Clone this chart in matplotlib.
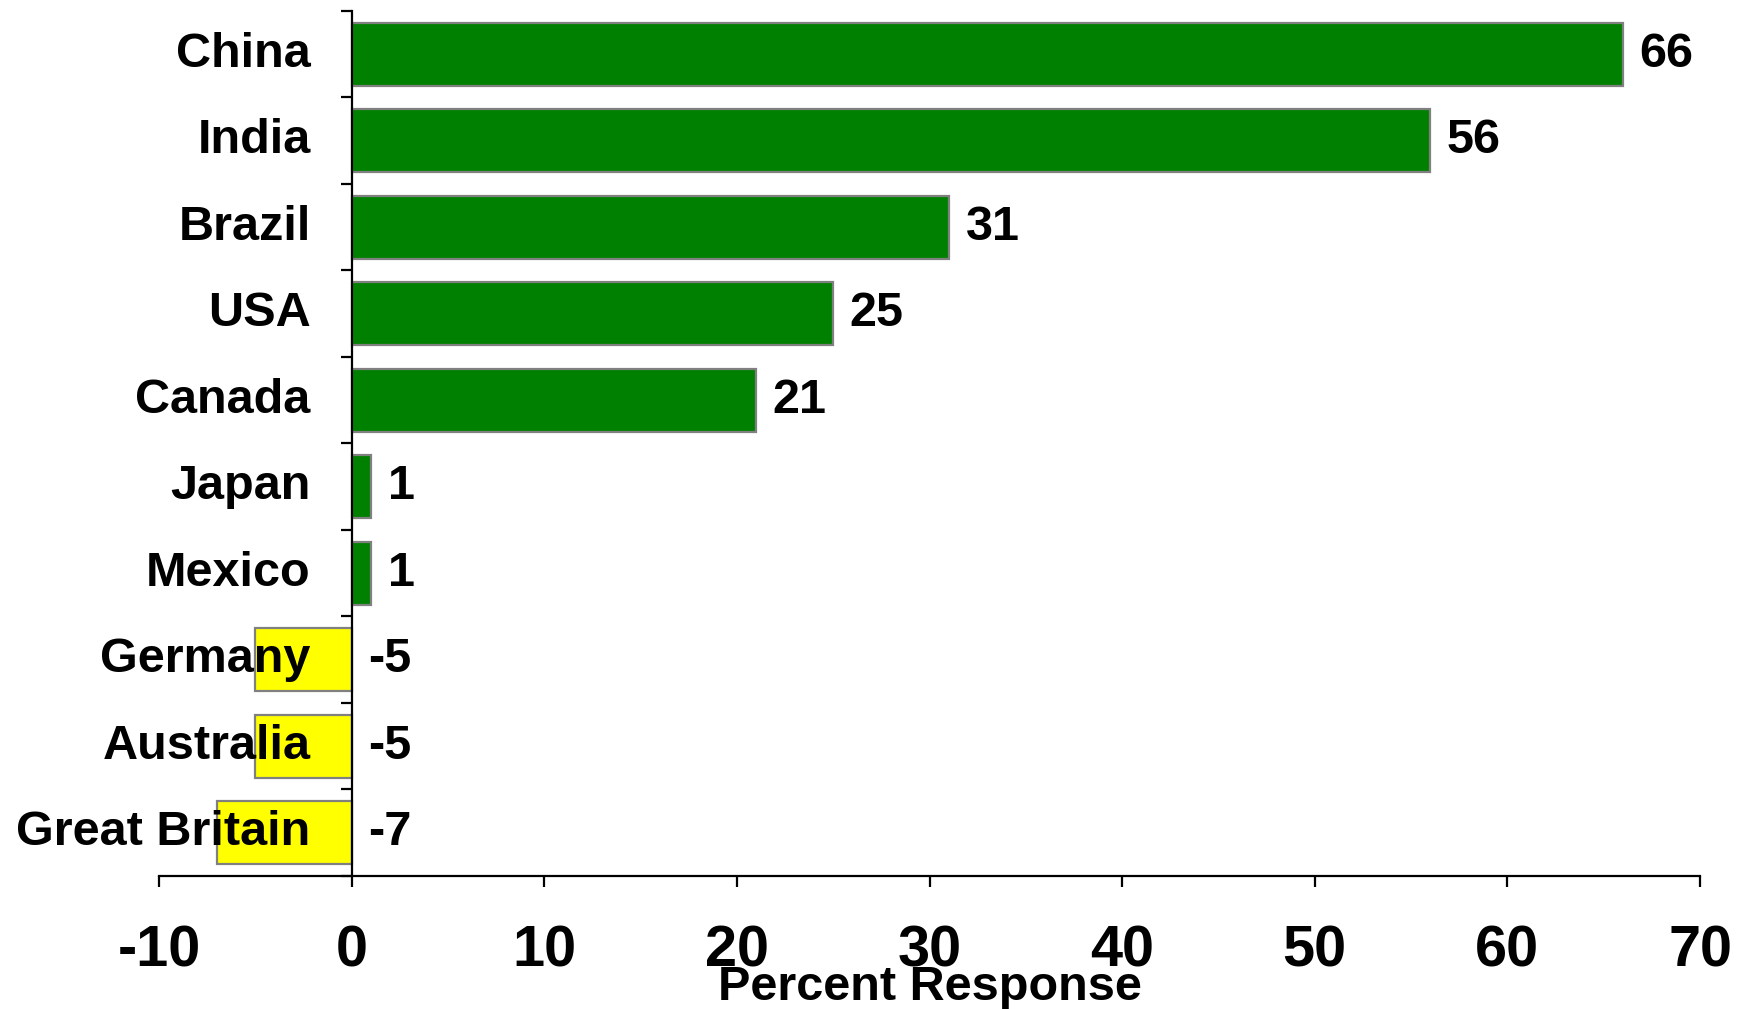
import matplotlib
matplotlib.use("Agg")
import matplotlib.pyplot as plt

countries = ["China", "India", "Brazil", "USA", "Canada", "Japan", "Mexico",
             "Germany", "Australia", "Great Britain"]
values = [66, 56, 31, 25, 21, 1, 1, -5, -5, -7]
x_ticks = [-10, 0, 10, 20, 30, 40, 50, 60, 70]

plt.rcParams["font.family"] = ["Liberation Sans", "DejaVu Sans"]
plt.rcParams["font.weight"] = "bold"

fig = plt.figure(figsize=(17.42, 10.09), dpi=100)
ax = fig.add_axes([159 / 1742, 1 - 876 / 1009, (1700 - 159) / 1742, (876 - 11) / 1009])

pos = list(range(len(countries)))
colors = ["#008000" if v >= 0 else "#FFFF00" for v in values]
ax.barh(pos, values, height=0.73, color=colors, edgecolor="#808080",
        linewidth=1.6, zorder=1)

ax.set_xlim(-10, 70)
ax.set_ylim(len(countries) - 0.5, -0.5)

# y axis sits at x = 0, with ticks between the categories
ax.spines["left"].set_position(("data", 0))
ax.spines["left"].set_linewidth(1.6)
ax.spines["bottom"].set_linewidth(1.6)
ax.spines["top"].set_visible(False)
ax.spines["right"].set_visible(False)

ax.set_yticks([p - 0.5 for p in pos] + [len(countries) - 0.5])
ax.set_yticklabels([])
ax.tick_params(axis="y", which="major", direction="out", length=8, width=1.6)

# category names, right-aligned just left of the y axis
for p, name in zip(pos, countries):
    ax.annotate(name, xy=(0, p), xytext=(-29.5, 3.5), textcoords="offset points",
                ha="right", va="center_baseline", fontsize=35, fontweight="bold",
                zorder=5, annotation_clip=False)

ax.set_xticks(x_ticks)
ax.set_xticklabels([str(t) for t in x_ticks], fontsize=41.5, fontweight="bold")
ax.tick_params(axis="x", direction="out", length=8, width=1.6, pad=27)

ax.set_xlabel("Percent Response", fontsize=35, fontweight="bold")
ax.xaxis.set_label_coords(0.5, -0.129)
ax.xaxis.label.set_va("center")

# value labels next to each bar end (or next to zero for negative values)
for p, v in zip(pos, values):
    ax.annotate(str(v), xy=(max(v, 0), p), xytext=(12, 3.5),
                textcoords="offset points", va="center_baseline", ha="left",
                fontsize=35, fontweight="bold", zorder=5)

fig.savefig("out.png", dpi=100)
